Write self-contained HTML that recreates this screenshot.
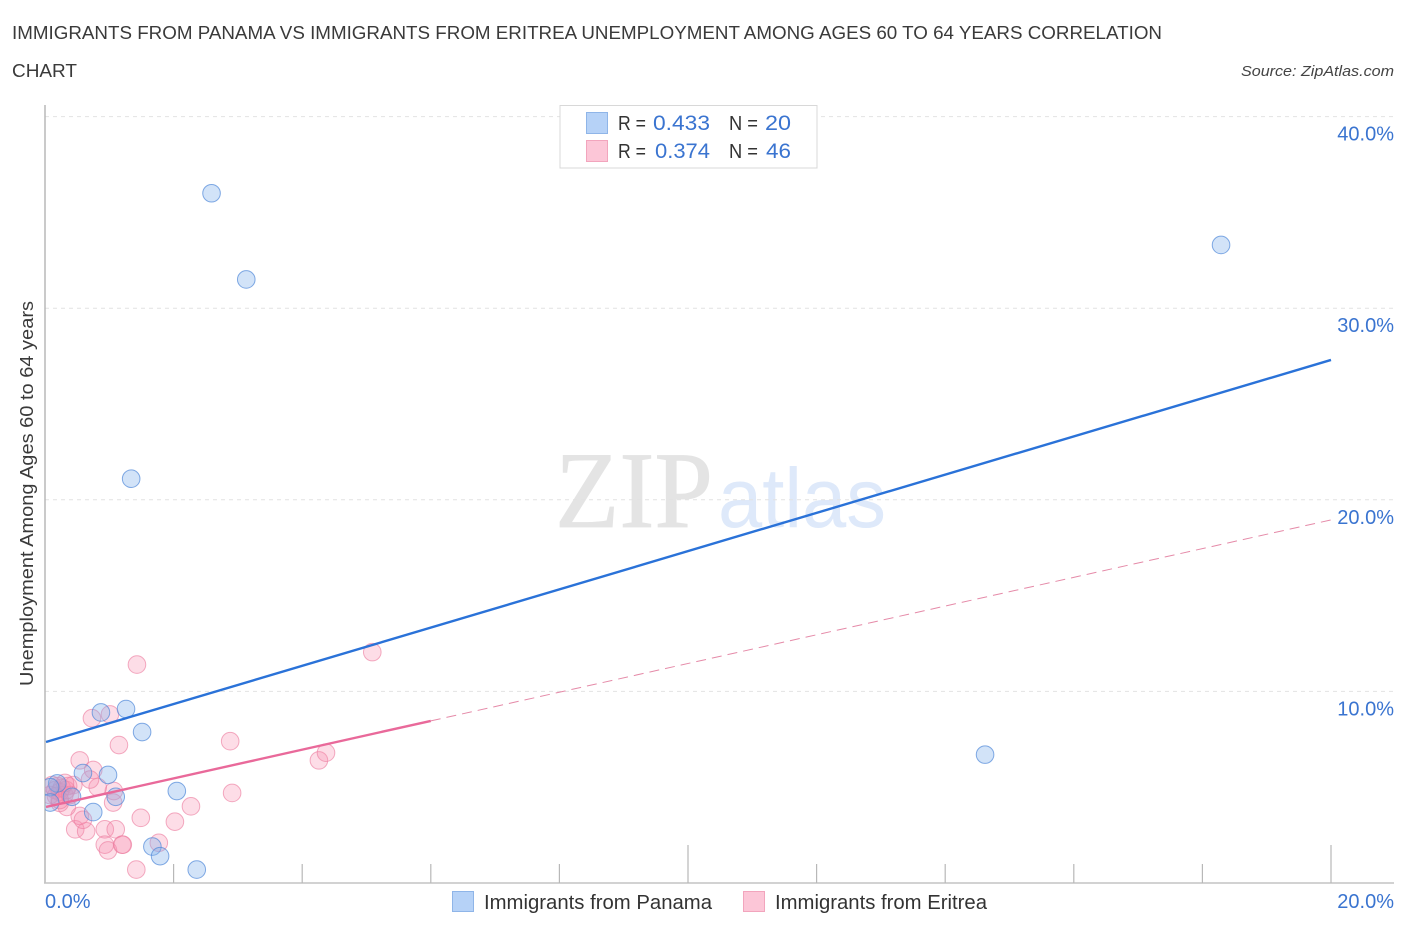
<!DOCTYPE html>
<html lang="en">
<head>
<meta charset="utf-8">
<title>Immigrants from Panama vs Immigrants from Eritrea Unemployment Correlation Chart</title>
<style>
html,body{margin:0;padding:0;background:#fff;width:1406px;height:930px;overflow:hidden}
svg{display:block;font-family:"Liberation Sans",sans-serif}
</style>
</head>
<body>
<svg id="chart" width="1406" height="930" viewBox="0 0 1406 930" xmlns="http://www.w3.org/2000/svg">
  <defs><clipPath id="plot-clip"><rect x="45" y="100" width="1350" height="783"/></clipPath></defs>
  <text x="12" y="39" font-size="18" fill="#3a3a3a" textLength="1150" lengthAdjust="spacingAndGlyphs">IMMIGRANTS FROM PANAMA VS IMMIGRANTS FROM ERITREA UNEMPLOYMENT AMONG AGES 60 TO 64 YEARS CORRELATION</text>
  <text x="12" y="77" font-size="18" fill="#3a3a3a" textLength="65" lengthAdjust="spacingAndGlyphs">CHART</text>
  <text x="1241" y="76" font-size="15" font-style="italic" fill="#444" textLength="153" lengthAdjust="spacingAndGlyphs">Source: ZipAtlas.com</text>
  <text x="555" y="527" font-family="'Liberation Serif',serif" font-size="109" fill="#e4e4e4" stroke="#e4e4e4" stroke-width="0.800" textLength="158" lengthAdjust="spacingAndGlyphs">ZIP</text>
  <text x="718" y="527" font-size="84" fill="#dee9fa" textLength="168" lengthAdjust="spacingAndGlyphs">atlas</text>
  <g id="grid"></g>
  <g id="axes"></g>
  <g id="points" clip-path="url(#plot-clip)"></g>
  <g id="trends"></g>
  <text transform="translate(33,686) rotate(-90)" font-size="18" fill="#3a3a3a" textLength="385" lengthAdjust="spacingAndGlyphs">Unemployment Among Ages 60 to 64 years</text>

  <g>
    <rect x="560" y="105.500" width="257" height="62.500" fill="#fff" stroke="#d8d8d8" stroke-width="1"/>
    <rect x="586.500" y="112.500" width="21" height="21" fill="#b6d2f7" stroke="#8fb5e8"/>
    <rect x="586.500" y="140.500" width="21" height="21" fill="#fcc6d7" stroke="#f2a5bd"/>
    <text x="618" y="130" font-size="20" fill="#333" textLength="28" lengthAdjust="spacingAndGlyphs">R =</text>
    <text x="653" y="130" font-size="21" fill="#3a74d0" textLength="57" lengthAdjust="spacingAndGlyphs">0.433</text>
    <text x="729" y="130" font-size="20" fill="#333" textLength="29" lengthAdjust="spacingAndGlyphs">N =</text>
    <text x="765" y="130" font-size="21" fill="#3a74d0" textLength="26" lengthAdjust="spacingAndGlyphs">20</text>
    <text x="618" y="158" font-size="20" fill="#333" textLength="28" lengthAdjust="spacingAndGlyphs">R =</text>
    <text x="655" y="158" font-size="21" fill="#3a74d0" textLength="55" lengthAdjust="spacingAndGlyphs">0.374</text>
    <text x="729" y="158" font-size="20" fill="#333" textLength="29" lengthAdjust="spacingAndGlyphs">N =</text>
    <text x="766" y="158" font-size="21" fill="#3a74d0" textLength="25" lengthAdjust="spacingAndGlyphs">46</text>
  </g>

  <g>
    <rect x="452.500" y="891.500" width="21" height="20" fill="#b6d2f7" stroke="#8fb5e8"/>
    <text x="484" y="909" font-size="20" fill="#333" textLength="228" lengthAdjust="spacingAndGlyphs">Immigrants from Panama</text>
    <rect x="743.500" y="891.500" width="21" height="20" fill="#fcc6d7" stroke="#f2a5bd"/>
    <text x="775" y="909" font-size="20" fill="#333" textLength="212" lengthAdjust="spacingAndGlyphs">Immigrants from Eritrea</text>
  </g>
</svg>
<script>
// Percent values
const yTickValues = [10, 20, 30, 40];
const yTickLabels = ['10.0%', '20.0%', '30.0%', '40.0%'];
const xTickValues = [0, 2, 4, 6, 8, 10, 12, 14, 16, 18, 20];
const xEndLabels = ['0.0%', '20.0%'];

const panamaX = [2.59, 3.13, 18.29, 1.34, 14.62, 1.26, 0.87, 1.51, 0.98, 0.59, 2.05, 1.10, 0.75, 1.67, 1.79, 2.36, 0.42, 0.19, 0.08, 0.08];
const panamaY = [36.0, 31.5, 33.3, 21.1, 6.7, 9.08, 8.9, 7.88, 5.64, 5.74, 4.8, 4.5, 3.7, 1.9, 1.4, 0.7, 4.5, 5.2, 5.0, 4.2];

const eritreaX = [1.43, 0.73, 1.01, 1.15, 2.88, 5.09, 0.54, 0.75, 2.91, 2.27, 1.49, 2.02, 1.07, 1.06, 0.82, 0.70, 0.93, 1.10, 0.47, 0.64, 0.54, 0.59, 0.93, 0.98, 1.20, 1.21, 1.77, 1.42, 4.26, 4.37, 0.34, 0.44, 0.23, 0.11, 0.16, 0.20, 0.23, 0.26, 0.30, 0.33, 0.36, 0.17, 0.08, 0.23, 0.39, 0.31];
const eritreaY = [11.4, 8.6, 8.8, 7.2, 7.4, 12.05, 6.4, 5.9, 4.7, 4.0, 3.4, 3.2, 4.8, 4.2, 5.0, 5.4, 2.8, 2.8, 2.8, 2.7, 3.5, 3.3, 2.0, 1.7, 2.0, 2.0, 2.1, 0.7, 6.4, 6.8, 3.97, 5.11, 4.18, 5.11, 4.85, 5.06, 4.75, 4.96, 4.59, 4.85, 5.06, 4.54, 4.59, 4.33, 4.59, 5.22];

const panamaTrendX = [0, 20];
const panamaTrendY = [7.36, 27.3];
const eritreaSolidX = [0, 6];
const eritreaSolidY = [3.97, 8.46];
const eritreaDashX = [6, 20];
const eritreaDashY = [8.46, 18.95];

const sx = v => 45 + v * 64.3;
const sy = v => 883 - v * 19.16;
const NS = 'http://www.w3.org/2000/svg';
const make = (tag, attrs, parent) => {
  const el = document.createElementNS(NS, tag);
  for (const k in attrs) el.setAttribute(k, attrs[k]);
  parent.appendChild(el);
  return el;
};
const grid = document.getElementById('grid');
const axes = document.getElementById('axes');
const points = document.getElementById('points');
const trends = document.getElementById('trends');

yTickValues.forEach((v, i) => {
  const line = make('line', {x1: 45, x2: 1394, y1: sy(v), y2: sy(v), stroke: '#e2e2e2', 'stroke-width': 1, 'stroke-dasharray': '4 4'}, grid);
  
  
  const label = make('text', {x: 1394, y: sy(v) + 24, 'font-size': 20, 'text-anchor': 'end', fill: '#3a74d0'}, axes);
  
  
  label.textContent = yTickLabels[i];
});

const yAxis = make('line', {x1: 45, x2: 45, y1: 105, y2: 883, stroke: '#b8b8b8', 'stroke-width': 1.500}, axes);


const xAxis = make('line', {x1: 44, x2: 1394, y1: 883, y2: 883, stroke: '#c4c4c4', 'stroke-width': 1.500}, axes);



xTickValues.forEach(v => {
  if (v === 0) return;
  const tall = v === 10 || v === 20;
  const tick = make('line', {x1: sx(v), x2: sx(v), y1: tall ? 845 : 864, y2: 883, stroke: '#b8b8b8', 'stroke-width': 1.200}, axes);
  
  
});

const xLabelLeft = make('text', {x: 45, y: 908, 'font-size': 20, fill: '#3a74d0'}, axes);


xLabelLeft.textContent = xEndLabels[0];
const xLabelRight = make('text', {x: 1394, y: 908, 'font-size': 20, 'text-anchor': 'end', fill: '#3a74d0'}, axes);


xLabelRight.textContent = xEndLabels[1];

eritreaX.forEach((v, i) => {
  const c = make('circle', {cx: sx(v), cy: sy(eritreaY[i]), r: 8.800, fill: '#f78fb0', 'fill-opacity': 0.3, stroke: '#ec7fa2', 'stroke-opacity': 0.65, 'stroke-width': 1}, points);
  
  
});
panamaX.forEach((v, i) => {
  const c = make('circle', {cx: sx(v), cy: sy(panamaY[i]), r: 8.800, fill: '#82b1ec', 'fill-opacity': 0.36, stroke: '#4f88d8', 'stroke-opacity': 0.7, 'stroke-width': 1}, points);
  
  
});

const blueTrend = make('line', {x1: sx(panamaTrendX[0]) + 1, y1: sy(panamaTrendY[0]), x2: sx(panamaTrendX[1]), y2: sy(panamaTrendY[1]), stroke: '#2a72d8', 'stroke-width': 2.400}, trends);


const pinkSolid = make('line', {x1: sx(eritreaSolidX[0]) + 1, y1: sy(eritreaSolidY[0]), x2: sx(eritreaSolidX[1]), y2: sy(eritreaSolidY[1]), stroke: '#e9699a', 'stroke-width': 2.400}, trends);


const pinkDash = make('line', {x1: sx(eritreaDashX[0]), y1: sy(eritreaDashY[0]), x2: sx(eritreaDashX[1]), y2: sy(eritreaDashY[1]), stroke: '#e58aa8', 'stroke-width': 1, 'stroke-dasharray': '10 6'}, trends);


</script>
</body>
</html>
